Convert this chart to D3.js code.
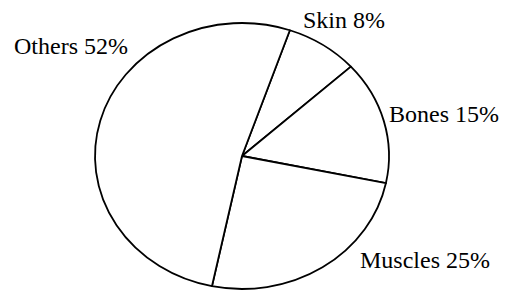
<!DOCTYPE html>
<html>
<head>
<meta charset="utf-8">
<script src="https://cdn.jsdelivr.net/npm/d3@7"></script>
<style>
  html, body { margin: 0; padding: 0; background: #fff; }
  svg text { font-family: "Liberation Serif", "Times New Roman", serif; font-size: 24px; fill: #000; }
</style>
</head>
<body>
<div id="container"></div>
<script>
'use strict'
// slices in clockwise order starting near the top
const categories = ['Skin', 'Bones', 'Muscles', 'Others'];
const values = [8, 15, 25, 52];

const width = 509;
const height = 290;
const cx = 242, cy = 156;   // pie centre
const rx = 147, ry = 133;   // drawn as an ellipse

// where each label sits (text layout only)
const labelAt = {
  Skin:    [303, 28],
  Bones:   [389, 122],
  Muscles: [360, 268],
  Others:  [14, 54]
};

const svg = d3.select('#container').append('svg')
  .attr('width', width)
  .attr('height', height);

const start = 19 * Math.PI / 180;
const pie = d3.pie()
  .sort(null)
  .startAngle(start)
  .endAngle(start + 2 * Math.PI);

const arcs = pie(values);

const arc = d3.arc().innerRadius(0).outerRadius(rx);

const g = svg.append('g')
  .attr('transform', `translate(${cx},${cy}) scale(1,${ry / rx})`);

g.selectAll('path.slice')
  .data(arcs)
  .enter().append('path')
  .attr('class', 'slice')
  .attr('d', arc)
  .attr('fill', '#fff')
  .attr('stroke', '#000')
  .attr('stroke-width', 1.8)
  .attr('stroke-linejoin', 'round')
  .attr('vector-effect', 'non-scaling-stroke');

svg.selectAll('text.label')
  .data(categories)
  .enter().append('text')
  .attr('class', 'label')
  .attr('x', d => labelAt[d][0])
  .attr('y', d => labelAt[d][1])
  .text((d, i) => d + ' ' + values[i] + '%');
</script>
</body>
</html>
